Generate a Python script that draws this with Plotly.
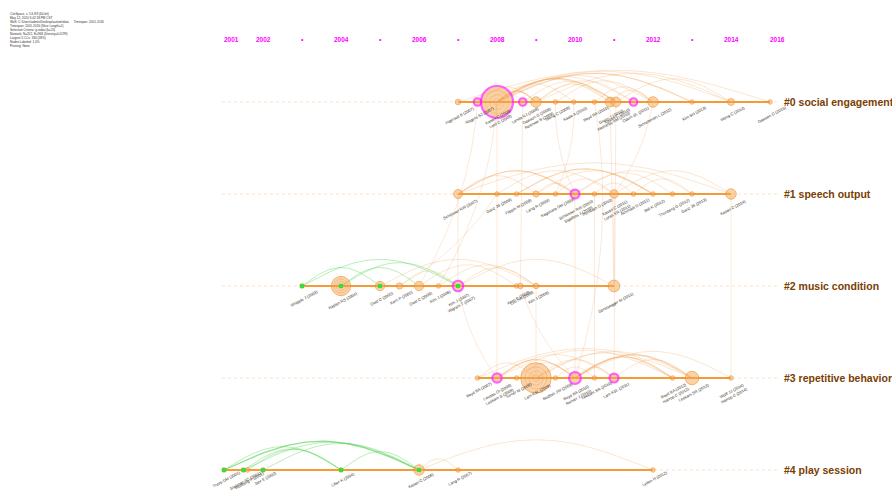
import numpy as np
import plotly.graph_objects as go

# ---------------- data ----------------
cluster_names = ["#0 social engagement", "#1 speech output", "#2 music condition",
                 "#3 repetitive behavior", "#4 play session"]

tick_text = ["2001", "2002", "\u2022", "2004", "\u2022", "2006", "\u2022", "2008",
             "\u2022", "2010", "\u2022", "2012", "\u2022", "2014", "2016"]
tick_year = [2001.2, 2002, 2003, 2004, 2005, 2006, 2007, 2008,
             2009, 2010, 2011, 2012, 2013, 2014, 2015.2]

# cited references: cluster, year, citation count, citation burst, early (green) node, label
node_cluster = [0]*15 + [1]*13 + [2]*11 + [3]*11 + [4]*8
node_year = [
    2007.0, 2007.5, 2008.0, 2008.66, 2009.0, 2009.5, 2009.97, 2010.5, 2010.9, 2011.05, 2011.5, 2012.0, 2013.0, 2014.0, 2015.0,
    2007.0, 2008.0, 2008.5, 2009.0, 2009.5, 2010.0, 2010.5, 2011.0, 2011.5, 2012.0, 2012.5, 2013.0, 2014.0,
    2003.0, 2004.0, 2005.0, 2005.5, 2006.0, 2006.5, 2007.0, 2008.5, 2008.6, 2009.0, 2011.0,
    2007.5, 2008.0, 2008.5, 2009.0, 2009.5, 2010.0, 2010.5, 2011.0, 2012.5, 2013.0, 2014.0,
    2001.0, 2001.5, 2001.6, 2002.0, 2004.0, 2006.0, 2007.0, 2012.0,
]
node_count = [
    2, 5, 150, 5, 12, 1, 1, 1, 10, 10, 5, 12, 1, 4, 1,
    8, 1, 1, 3, 1, 8, 1, 7, 1, 1, 1, 1, 12,
    1, 50, 9, 3, 9, 1, 12, 1, 2, 2, 16,
    1, 9, 1, 135, 1, 16, 1, 8, 1, 22, 1,
    1, 1, 1, 1, 1, 12, 1, 1,
]
node_burst = [
    0, 1, 1, 1, 0, 0, 0, 0, 0, 0, 1, 0, 0, 0, 0,
    0, 0, 0, 0, 0, 1, 0, 0, 0, 0, 0, 0, 0,
    0, 0, 0, 0, 0, 0, 1, 0, 0, 0, 0,
    0, 1, 0, 0, 0, 1, 0, 1, 0, 0, 0,
    0, 0, 0, 0, 0, 0, 0, 0,
]
node_early = [
    0]*15 + [0]*13 + [
    1, 1, 1, 0, 0, 0, 1, 0, 0, 0, 0] + [0]*11 + [
    1, 1, 0, 1, 1, 1, 0, 0,
]
node_label = [
    "Ingersoll B (2007)", "Rogers SJ (2007)", "Kasari C (2008)<br>Lord C (2008)", "Landa RJ (2008)",
    "Dawson G (2009)<br>Reichow B (2009)", "Wong C (2009)", "Kaale A (2010)", "Boyd BA (2010)",
    "Green J (2010)<br>Wetherby AM (2010)", "Kasari C (2010)", "Odom SL (2011)", "Schreibman L (2012)",
    "Kim SH (2013)", "Wong C (2014)", "Dawson G (2015)",
    "Schlosser RW (2007)", "Ganz JB (2008)", "Flippin M (2008)", "Lang R (2009)", "Kagohara DM (2009)",
    "Schlosser RW (2010)<br>Sigafoos J (2010)", "Trembath D (2010)", "Kasari C (2011)<br>Lorah ER (2011)",
    "Achmadi D (2011)", "Still K (2012)", "Thunberg G (2012)", "Ganz JB (2013)", "Kasari C (2014)",
    "Whipple J (2003)", "Kaplan RS (2004)", "Gold C (2005)", "Kern P (2005)", "Gold C (2006)",
    "Kim J (2006)", "Kim J (2007)<br>Wigram T (2007)", "Kern P (2008)", "Lim HA (2008)", "Kim J (2009)",
    "Geretsegger M (2011)",
    "Boyd BA (2007)", "Lovaas OI (2008)<br>Leekam S (2008)", "Turner M (2008)", "Lam KSL (2009)",
    "Bodfish JW (2009)", "Boyd BA (2010)<br>Richler J (2010)", "Leekam SR (2010)", "Lam KSL (2011)",
    "Boyd BA (2012)<br>Harrop C (2012)", "Leekam SR (2013)", "Wolff JJ (2014)<br>Harrop C (2014)",
    "Thorp DM (2001)", "Stahmer AC (2001)", "Wolfberg P (2001)", "Jahr E (2002)",
    "Lifter K (2004)", "Kasari C (2006)", "Lang R (2007)", "Lydon H (2012)",
]

# co-citation links inside a cluster: cluster, from year, to year, early (green), strength
link_cluster = [0]*19 + [1]*13 + [2]*10 + [3]*15 + [4]*9
link_from = [
    2007.0, 2007.5, 2008.0, 2008.0, 2008.0, 2008.0, 2008.0, 2008.0, 2008.0, 2008.66,
    2009.0, 2009.0, 2009.5, 2008.0, 2010.5, 2011.05, 2009.0, 2010.9, 2007.5,
    2007.0, 2007.0, 2008.0, 2008.5, 2009.0, 2009.5, 2010.0, 2010.0, 2011.0, 2010.5, 2007.0, 2009.0, 2011.5,
    2003.0, 2003.0, 2004.0, 2004.0, 2005.0, 2006.0, 2007.0, 2007.0, 2006.5, 2005.5,
    2007.5, 2008.0, 2008.0, 2008.0, 2009.0, 2009.0, 2010.0, 2010.0, 2010.0, 2008.5,
    2009.0, 2011.0, 2009.5, 2007.5, 2010.0,
    2001.0, 2001.5, 2001.6, 2001.0, 2002.0, 2001.5, 2004.0, 2006.0, 2006.0,
]
link_to = [
    2015.0, 2014.0, 2013.0, 2012.0, 2011.5, 2011.05, 2010.9, 2009.0, 2008.66, 2011.05,
    2010.9, 2011.5, 2012.0, 2009.97, 2012.0, 2014.0, 2014.0, 2012.0, 2009.0,
    2014.0, 2010.0, 2011.0, 2012.0, 2010.0, 2011.0, 2012.5, 2013.0, 2014.0, 2011.5, 2009.0, 2012.0, 2013.0,
    2007.0, 2005.0, 2007.0, 2006.0, 2009.0, 2008.5, 2011.0, 2009.0, 2009.0, 2007.0,
    2013.0, 2012.5, 2011.0, 2010.0, 2013.0, 2012.5, 2013.0, 2012.5, 2011.0, 2010.0,
    2011.0, 2013.0, 2010.5, 2009.0, 2014.0,
    2006.0, 2006.0, 2004.0, 2004.0, 2006.0, 2004.0, 2006.0, 2012.0, 2007.0,
]
link_early = [0]*32 + [1, 1, 1, 1, 0, 0, 0, 0, 0, 0] + [0]*15 + [1, 1, 1, 1, 1, 1, 1, 0, 0]
link_strength = [
    1, 1, 2, 1, 1, 2, 1, 2, 1, 1, 1, 1, 1, 1, 1, 1, 1, 1, 1,
    1, 2, 1, 2, 1, 1, 1, 1, 1, 1, 1, 1, 1,
    1, 1, 1, 1, 1, 1, 1, 1, 1, 1,
    1, 1, 1, 2, 1, 1, 2, 2, 1, 1, 1, 1, 1, 1, 1,
    2, 1, 1, 1, 1, 1, 1, 1, 1,
]

# co-citation links between clusters: (cluster, year) -> (cluster, year)
cross_from_cluster = [0, 0, 0, 0, 1, 0, 0, 0, 2, 2, 2, 2, 2, 2, 1, 1, 0, 1, 2]
cross_from_year = [2008.0, 2008.66, 2011.05, 2010.9, 2014.0, 2009.5, 2009.97, 2010.5, 2009.0,
                   2007.0, 2008.6, 2006.0, 2006.5, 2007.0, 2010.5, 2011.0, 2012.0, 2010.0, 2005.5]
cross_to_cluster = [3, 2, 3, 2, 3, 1, 1, 3, 3, 3, 3, 0, 0, 1, 3, 2, 1, 3, 1]
cross_to_year = [2008.0, 2008.6, 2011.0, 2011.0, 2014.0, 2010.0, 2009.5, 2010.0, 2009.0,
                 2008.0, 2010.0, 2007.5, 2008.0, 2007.0, 2010.5, 2011.0, 2011.0, 2010.0, 2008.0]

info_lines = [
    "CiteSpace, v. 5.6.R3 (64-bit)",
    "May 12, 2020 3:42:18 PM CST",
    "WoS: C:\\Users\\admin\\Desktop\\autism\\data      Timespan: 2001-2016",
    "Timespan: 2001-2016 (Slice Length=1)",
    "Selection Criteria: g-index (k=25)",
    "Network: N=312, E=968 (Density=0.0199)",
    "Largest 5 CCs: 184 (58%)",
    "Nodes Labeled: 1.0%",
    "Pruning: None",
]

# ---------------- scales ----------------
W, H = 892, 491
PX_YEAR = 39.0                  # pixels per year
PX_ROW = 92.0                   # pixels between cluster rows
X0 = 2002 - 263 / PX_YEAR       # year at left edge
Y0 = -102 / PX_ROW              # row at top edge


def to_px(year, row):
    return (np.asarray(year) - X0) * PX_YEAR, (np.asarray(row) - Y0) * PX_ROW


def from_px(x, y):
    return X0 + np.asarray(x) / PX_YEAR, Y0 + np.asarray(y) / PX_ROW


def diameter(count):
    return 2.0 + 2.45 * np.sqrt(count)


ORANGE = "#F59B36"
MAGENTA = "#FF1CFF"
GREEN = "#3EDB3E"

fig = go.Figure()


def add_path(xs, ys, color, width, dash=None):
    line = dict(color=color, width=width)
    if dash:
        line["dash"] = dash
    fig.add_trace(go.Scatter(x=xs, y=ys, mode="lines", line=line,
                             hoverinfo="skip", showlegend=False))


# faint dotted guide line for every cluster row
gx, gy = [], []
for c in range(len(cluster_names)):
    xa, _ = from_px(222, 0)
    xb, _ = from_px(778, 0)
    gx += [xa, xb, None]
    gy += [c, c, None]
add_path(gx, gy, "rgba(245,170,110,0.42)", 0.9, "dot")

# arcs between references within a cluster
u = np.linspace(0, 1, 40)
groups = {}
for c, a, b, e, s in zip(link_cluster, link_from, link_to, link_early, link_strength):
    xa, yl = to_px(a, c)
    xb, _ = to_px(b, c)
    span = abs(xb - xa)
    h = 33 * (1 - np.exp(-span / 95))
    px = xa + (xb - xa) * u
    py = yl - h * np.sin(np.pi * u)
    dx, dy = from_px(px, py)
    key = (e, s)
    groups.setdefault(key, ([], []))
    groups[key][0].extend(list(dx) + [None])
    groups[key][1].extend(list(dy) + [None])

styles = {
    (0, 1): ("rgba(242,165,90,0.28)", 1.0),
    (0, 2): ("rgba(238,150,60,0.42)", 1.2),
    (1, 1): ("rgba(90,215,90,0.42)", 1.0),
    (1, 2): ("rgba(70,205,70,0.6)", 1.3),
}
for key, (xs, ys) in groups.items():
    col, w = styles[key]
    add_path(xs, ys, col, w)

# links between clusters
t = np.linspace(0, 1, 40)
cx_all, cy_all = [], []
for c0, y0, c1, y1 in zip(cross_from_cluster, cross_from_year, cross_to_cluster, cross_to_year):
    x_a, y_a = to_px(y0, c0)
    x_b, y_b = to_px(y1, c1)
    mx, my = (x_a + x_b) / 2, (y_a + y_b) / 2
    L = np.hypot(x_b - x_a, y_b - y_a)
    off = 0.0 if abs(x_b - x_a) < 4 else 0.12 * L * np.sign(x_b - x_a)
    nx, ny = -(y_b - y_a) / L, (x_b - x_a) / L
    qx, qy = mx + nx * off, my + ny * off
    bx = (1 - t) ** 2 * x_a + 2 * (1 - t) * t * qx + t ** 2 * x_b
    by = (1 - t) ** 2 * y_a + 2 * (1 - t) * t * qy + t ** 2 * y_b
    dx, dy = from_px(bx, by)
    cx_all += list(dx) + [None]
    cy_all += list(dy) + [None]
add_path(cx_all, cy_all, "rgba(240,165,100,0.28)", 0.9)

# solid timeline segment of each cluster
sx, sy = [], []
node_cluster_a = np.array(node_cluster)
node_year_a = np.array(node_year)
for c in range(len(cluster_names)):
    yrs = node_year_a[node_cluster_a == c]
    sx += [yrs.min(), yrs.max(), None]
    sy += [c, c, None]
add_path(sx, sy, ORANGE, 1.8)

# nodes
d = diameter(np.array(node_count))
burst = np.array(node_burst, dtype=bool)
early = np.array(node_early, dtype=bool)
big = np.array(node_count) >= 40

fig.add_trace(go.Scatter(
    x=node_year_a[~burst], y=node_cluster_a[~burst], mode="markers",
    marker=dict(size=d[~burst], color="rgba(245,168,85,0.72)",
                line=dict(color="rgba(236,140,40,0.9)", width=1)),
    hoverinfo="skip", showlegend=False))

# tree rings inside the large nodes
for frac in (0.72, 0.46, 0.22):
    fig.add_trace(go.Scatter(
        x=node_year_a[big], y=node_cluster_a[big], mode="markers",
        marker=dict(size=d[big] * frac, color="rgba(0,0,0,0)",
                    line=dict(color="rgba(230,140,50,0.4)", width=1)),
        hoverinfo="skip", showlegend=False))

fig.add_trace(go.Scatter(
    x=node_year_a[burst], y=node_cluster_a[burst], mode="markers",
    marker=dict(size=d[burst], color="rgba(245,168,85,0.75)",
                line=dict(color=MAGENTA, width=2.2)),
    hoverinfo="skip", showlegend=False))

fig.add_trace(go.Scatter(
    x=node_year_a[early], y=node_cluster_a[early], mode="markers",
    marker=dict(size=4.2, color=GREEN, symbol="square", line=dict(width=0)),
    hoverinfo="skip", showlegend=False))

annotations = []

# reference labels under the nodes (bottom row kept a little tighter to stay in frame)
for yr, c, lab, dd in zip(node_year, node_cluster, node_label, d):
    lines = lab.split("<br>")
    n = max(len(s) for s in lines)
    w = n * 2.05
    drop = 2 + 0.23 * w + 2.3 * len(lines) + min(dd, 14) * 0.22
    if c == len(cluster_names) - 1:
        drop -= 3
    annotations.append(dict(
        x=yr, y=c, xref="x", yref="y", text=lab, showarrow=False,
        textangle=-28, xanchor="center", yanchor="middle",
        xshift=2, yshift=-drop,
        font=dict(family="Arial", size=4, color="#3a3024")))

# cluster names at the right end of each row
name_x, _ = from_px(782, 0)
for c, name in enumerate(cluster_names):
    annotations.append(dict(
        x=name_x, y=c, xref="x", yref="y", text="<b>%s</b>" % name, showarrow=False,
        xanchor="left", yanchor="middle",
        font=dict(family="Arial", size=10.5, color="#7A3D02")))

# year scale along the top
for yr, txt in zip(tick_year, tick_text):
    annotations.append(dict(
        x=yr, y=1 - 39 / H, xref="x", yref="paper", text="<b>%s</b>" % txt, showarrow=False,
        xanchor="center", yanchor="middle",
        font=dict(family="Arial", size=6.5 if txt != "\u2022" else 7, color="#FF00FF")))

# summary text block in the corner
annotations.append(dict(
    x=8 / W, y=1 - 10 / H, xref="paper", yref="paper", text="<br>".join(info_lines),
    showarrow=False, xanchor="left", yanchor="top", align="left",
    font=dict(family="Arial", size=3.1, color="#333333")))

fig.update_layout(
    width=W, height=H, margin=dict(l=0, r=0, t=0, b=0),
    paper_bgcolor="white", plot_bgcolor="white",
    xaxis=dict(range=[X0, X0 + W / PX_YEAR], visible=False, fixedrange=True),
    yaxis=dict(range=[Y0 + H / PX_ROW, Y0], visible=False, fixedrange=True),
    annotations=annotations,
    showlegend=False,
)

fig.write_html("out.html")
